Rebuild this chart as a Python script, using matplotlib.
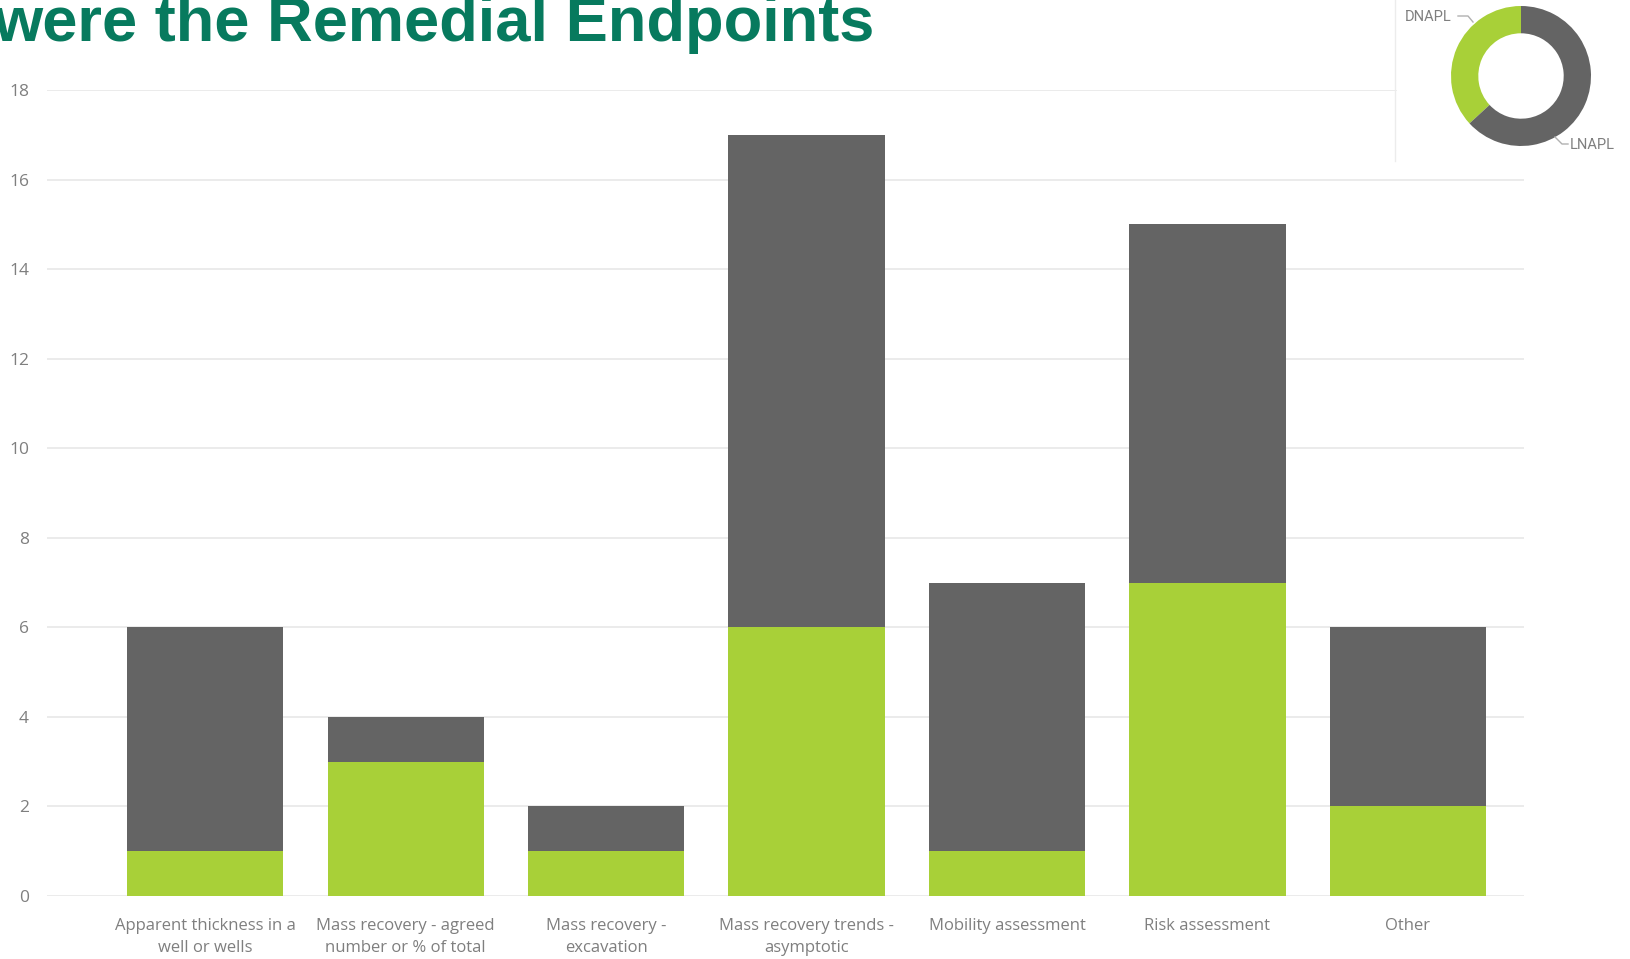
import matplotlib.pyplot as plt

categories = [
    "Apparent thickness in a\nwell or wells",
    "Mass recovery - agreed\nnumber or % of total",
    "Mass recovery -\nexcavation",
    "Mass recovery trends -\nasymptotic",
    "Mobility assessment",
    "Risk assessment",
    "Other",
]
dnapl = [1, 3, 1, 6, 1, 7, 2]
lnapl = [5, 1, 1, 11, 6, 8, 4]
yticks = [0, 2, 4, 6, 8, 10, 12, 14, 16, 18]

GREEN = "#a8d038"
GREY = "#646464"
TEXT = "#7f7f7f"
TITLE = "#077a5e"

W, H = 1631, 959
fig = plt.figure(figsize=(W / 100, H / 100), dpi=100)


def px_axes(left, top, right, bottom):
    return fig.add_axes([left / W, 1 - bottom / H, (right - left) / W, (bottom - top) / H])


# stacked bars
ax = px_axes(47, 90, 1524, 896)
x = range(len(categories))
ax.bar(x, dnapl, width=0.78, color=GREEN, zorder=2)
ax.bar(x, lnapl, width=0.78, bottom=dnapl, color=GREY, zorder=2)
ax.set_xlim(-0.79, 6.58)
ax.set_ylim(0, 18)
for s in ax.spines.values():
    s.set_visible(False)
for t in yticks:
    xmax = 0.913 if t == 18 else 1.0
    ax.axhline(t, xmin=0, xmax=xmax, color="#e8e8e8", lw=1.2, zorder=1)
ax.set_yticks(yticks)
ax.set_xticks(list(x))
ax.set_xticklabels(categories, fontsize=12, color=TEXT, family="Open Sans",
                   linespacing=1.45)
ax.tick_params(axis="x", length=0, pad=16)
ax.tick_params(axis="y", length=0, pad=13, labelsize=12.5, labelcolor=TEXT)
for lab in ax.get_yticklabels():
    lab.set_family("Open Sans")

# title, partly off the page
fig.text(-0.004, 1 - 41 / H, "were the Remedial Endpoints", fontsize=45.5,
         fontweight="bold", color=TITLE, family="Liberation Sans", va="baseline")

# separator of the donut panel
fig.add_artist(plt.Line2D([1395 / W, 1395 / W], [1, 1 - 161 / H], color="#ececec", lw=1))

# donut of totals
dax = px_axes(1451, 6, 1591, 146)
totals = [sum(dnapl), sum(lnapl)]
dax.pie(totals, colors=[GREEN, GREY], startangle=90, counterclock=True,
        wedgeprops=dict(width=0.39, edgecolor="none"))
dax.set_aspect("equal")
dax.set_xlim(-1, 1)
dax.set_ylim(-1, 1)

fig.text(1405 / W, 1 - 17 / H, "DNAPL", fontsize=10.5, color=TEXT, va="center",
         family="Roboto")
fig.text(1570 / W, 1 - 145 / H, "LNAPL", fontsize=10.5, color=TEXT, va="center",
         family="Roboto")
fig.add_artist(plt.Line2D([1458 / W, 1468 / W, 1473 / W], [1 - 16 / H, 1 - 16 / H, 1 - 22 / H],
                          color="#b0b0b0", lw=1))
fig.add_artist(plt.Line2D([1555 / W, 1562 / W, 1568 / W], [1 - 137 / H, 1 - 144 / H, 1 - 144 / H],
                          color="#b0b0b0", lw=1))

fig.savefig("out.png", dpi=100)
